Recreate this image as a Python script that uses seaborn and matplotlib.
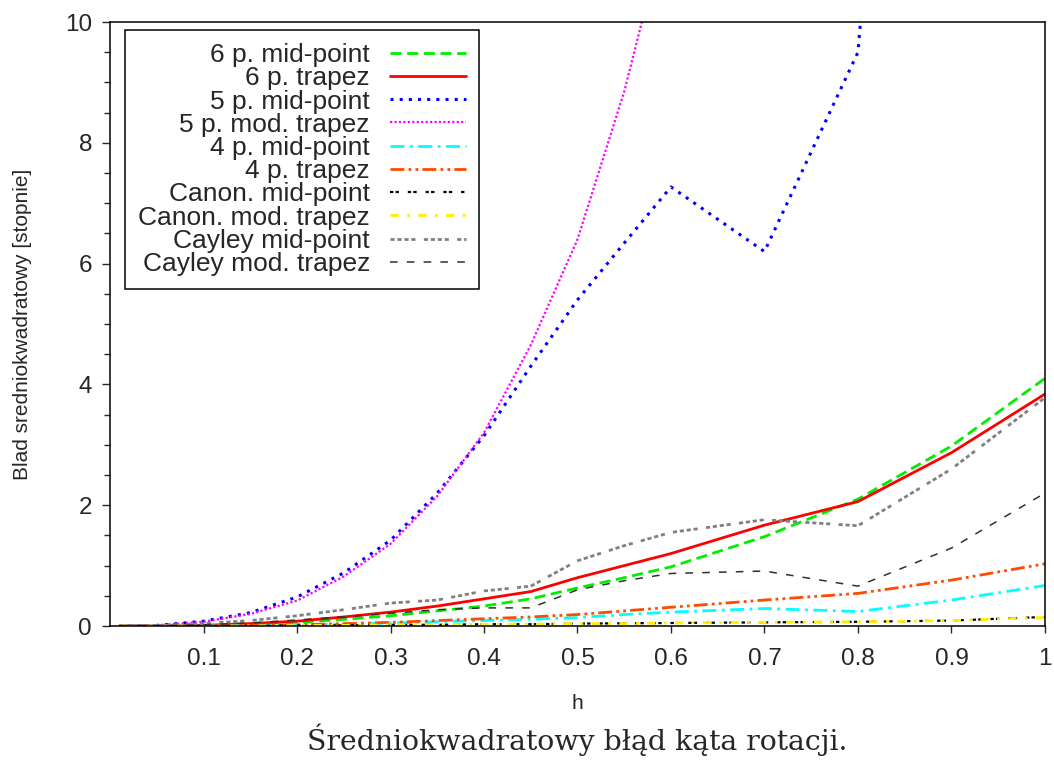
import numpy as np
import pandas as pd
import matplotlib
matplotlib.use("Agg")
import matplotlib.pyplot as plt
from matplotlib.ticker import MultipleLocator, FixedLocator
import seaborn as sns

# step sizes h
h = [0.01, 0.05, 0.1, 0.15, 0.2, 0.25, 0.3, 0.35, 0.4, 0.45, 0.5, 0.55, 0.6, 0.7, 0.8, 0.9, 1.0]

# RMS error of rotation angle [degrees]
p6_mid = [0, 0.0, 0.01, 0.03, 0.06, 0.11, 0.17, 0.25, 0.33, 0.45, 0.63, 0.8, 0.98, 1.48, 2.1, 2.98, 4.1]
p6_trap = [0, 0.0, 0.01, 0.04, 0.08, 0.15, 0.23, 0.33, 0.45, 0.57, 0.8, 1.0, 1.2, 1.67, 2.06, 2.87, 3.84]
p5_mid = [0, 0.01, 0.08, 0.22, 0.48, 0.88, 1.42, 2.2, 3.15, 4.3, 5.4, 6.34, 7.27, 6.2, 9.5, 28, 50]
p5_modtrap = [0, 0.01, 0.07, 0.2, 0.42, 0.82, 1.36, 2.15, 3.2, 4.65, 6.4, 8.85, 11.9, 17, 24, 32, 42]
p4_mid = [0, 0, 0.0, 0.01, 0.02, 0.03, 0.05, 0.07, 0.09, 0.11, 0.14, 0.19, 0.23, 0.29, 0.24, 0.43, 0.67]
p4_trap = [0, 0, 0.01, 0.01, 0.02, 0.04, 0.06, 0.09, 0.12, 0.15, 0.19, 0.25, 0.31, 0.43, 0.54, 0.76, 1.03]
canon_mid = [0, 0, 0, 0.0, 0.01, 0.01, 0.02, 0.02, 0.03, 0.03, 0.04, 0.045, 0.05, 0.06, 0.07, 0.09, 0.15]
canon_modtrap = [0, 0, 0, 0, 0.01, 0.01, 0.02, 0.02, 0.03, 0.03, 0.04, 0.04, 0.05, 0.06, 0.07, 0.09, 0.14]
cayley_mid = [0, 0.01, 0.04, 0.09, 0.17, 0.27, 0.38, 0.43, 0.58, 0.66, 1.08, 1.33, 1.55, 1.76, 1.66, 2.6, 3.78]
cayley_modtrap = [0, 0, 0.02, 0.05, 0.1, 0.15, 0.21, 0.27, 0.3, 0.3, 0.6, 0.75, 0.87, 0.91, 0.66, 1.29, 2.2]

labels = ["6 p. mid-point", "6 p. trapez", "5 p. mid-point", "5 p. mod. trapez",
          "4 p. mid-point", "4 p. trapez", "Canon. mid-point", "Canon. mod. trapez",
          "Cayley mid-point", "Cayley mod. trapez"]
series = [p6_mid, p6_trap, p5_mid, p5_modtrap, p4_mid, p4_trap,
          canon_mid, canon_modtrap, cayley_mid, cayley_modtrap]

# gnuplot-like line styles: colour, width, dash pattern
styles = [
    ("#00ee00", 2.0, (0, (4, 2))),
    ("#ff0000", 2.0, "-"),
    ("#0000ff", 2.2, (0, (1, 2))),
    ("#ff00ff", 1.6, (0, (1, 1))),
    ("#00ffff", 2.0, (0, (5, 2, 1, 2))),
    ("#ff4a00", 2.0, (0, (5, 1.5, 1, 1.5, 1, 1.5))),
    ("#000000", 1.6, (0, (1.5, 1, 1.5, 4))),
    ("#ffee00", 2.0, (0, (3, 3, 1, 3))),
    ("#808080", 2.0, (0, (1.5, 1, 1.5, 1, 1.5, 1, 1.5, 3))),
    ("#303030", 1.1, (0, (5, 6))),
]

df = pd.DataFrame({"h": np.tile(h, len(labels)),
                   "err": np.concatenate(series),
                   "method": np.repeat(labels, len(h))})

sns.set_style("ticks")
plt.rcParams["font.family"] = ["Liberation Sans", "DejaVu Sans"]

fig = plt.figure(figsize=(10.54, 7.60), dpi=100)
ax = fig.add_axes([0.1044, 0.1763, 0.887, 0.7947])

for name, (col, lw, ls) in zip(labels, styles):
    sub = df[df["method"] == name]
    sns.lineplot(data=sub, x="h", y="err", ax=ax, color=col, linewidth=lw,
                 linestyle=ls, label=name, sort=False)

ax.set_xlim(0, 1)
ax.set_ylim(0, 10)
ax.xaxis.set_major_locator(FixedLocator([0.1, 0.2, 0.3, 0.4, 0.5, 0.6, 0.7, 0.8, 0.9, 1.0]))
ax.set_xticklabels(["0.1", "0.2", "0.3", "0.4", "0.5", "0.6", "0.7", "0.8", "0.9", "1"])
ax.yaxis.set_major_locator(MultipleLocator(2))
ax.yaxis.set_minor_locator(MultipleLocator(0.5))
ax.tick_params(axis="x", which="major", direction="out", length=5, width=1, labelsize=17.5, pad=11)
ax.tick_params(axis="y", which="major", direction="out", length=6, width=1, labelsize=17.5, pad=7)
ax.tick_params(axis="y", which="minor", direction="out", length=4, width=1)
for sp in ax.spines.values():
    sp.set_visible(True)
    sp.set_color("black")
    sp.set_linewidth(1.1)

ax.set_xlabel("h", fontsize=15)
ax.xaxis.set_label_coords(0.5, -0.112)
ax.set_ylabel("Blad sredniokwadratowy [stopnie]", fontsize=15)
ax.yaxis.set_label_coords(-0.083, 0.5)

leg = ax.legend(loc="upper left", bbox_to_anchor=(0.016, 0.987), borderaxespad=0,
                markerfirst=False, fontsize=19, frameon=True, fancybox=False,
                handlelength=2.9, handletextpad=0.75, labelspacing=-0.03,
                borderpad=0.5)
leg.get_frame().set_edgecolor("black")
leg.get_frame().set_linewidth(1.1)
leg.get_frame().set_alpha(1)

fig.text(0.548, 0.026, "Średniokwadratowy błąd kąta rotacji.", ha="center", va="center",
         fontsize=20.4, family=["DejaVu Serif"])

fig.savefig("out.png", dpi=100)
